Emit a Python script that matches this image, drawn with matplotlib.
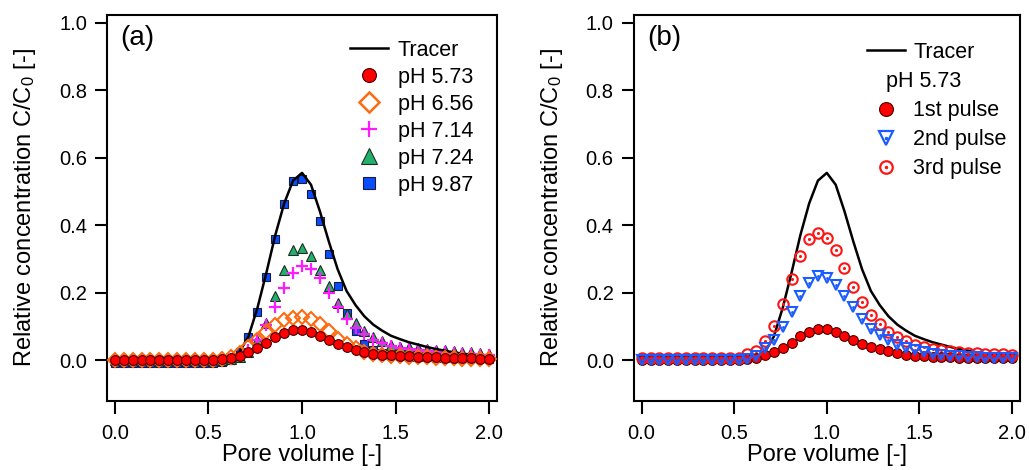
import matplotlib
matplotlib.use("Agg")
import matplotlib.pyplot as plt
from matplotlib.lines import Line2D
from matplotlib.legend_handler import HandlerTuple

plt.rcParams['font.family'] = ['Liberation Sans', 'DejaVu Sans']
plt.rcParams['mathtext.fontset'] = 'custom'
plt.rcParams['mathtext.rm'] = 'Liberation Sans'
plt.rcParams['mathtext.it'] = 'Liberation Sans:italic'

# pore volume grid (43 samples, 0 -> 2)
pore_volume = [0.000, 0.048, 0.095, 0.143, 0.190, 0.238, 0.286, 0.333, 0.381, 0.429,
               0.476, 0.524, 0.571, 0.619, 0.667, 0.714, 0.762, 0.810, 0.857, 0.905,
               0.952, 1.000, 1.048, 1.095, 1.143, 1.190, 1.238, 1.286, 1.333, 1.381,
               1.429, 1.476, 1.524, 1.571, 1.619, 1.667, 1.714, 1.762, 1.810, 1.857,
               1.905, 1.952, 2.000]

tracer = [0.0, 0.0, 0.0, 0.0, 0.0, 0.0, 0.0, 0.0, 0.0, 0.0,
          0.0, 0.0, 0.0, 0.005, 0.025, 0.07, 0.155, 0.26, 0.37, 0.465,
          0.532, 0.555, 0.52, 0.442, 0.352, 0.27, 0.205, 0.163, 0.13, 0.105,
          0.087, 0.072, 0.062, 0.053, 0.046, 0.039, 0.033, 0.028, 0.023, 0.019,
          0.015, 0.011, 0.008]

# panel (a)
ph_573 = [0.0, 0.0, 0.0, 0.0, 0.0, 0.0, 0.0, 0.0, 0.0, 0.0,
          0.0, 0.0, 0.002, 0.006, 0.013, 0.023, 0.035, 0.051, 0.067, 0.081,
          0.089, 0.089, 0.083, 0.072, 0.059, 0.047, 0.039, 0.031, 0.025, 0.019,
          0.016, 0.014, 0.012, 0.011, 0.010, 0.009, 0.008, 0.007, 0.006, 0.005,
          0.005, 0.004, 0.004]
ph_656 = [0.0, 0.0, 0.0, 0.0, 0.0, 0.0, 0.0, 0.0, 0.0, 0.0,
          0.0, 0.0, 0.003, 0.008, 0.02, 0.04, 0.06, 0.084, 0.104, 0.118,
          0.126, 0.128, 0.122, 0.108, 0.086, 0.064, 0.049, 0.035, 0.025, 0.018,
          0.015, 0.013, 0.011, 0.010, 0.009, 0.008, 0.007, 0.006, 0.005, 0.004,
          0.004, 0.003, 0.003]
ph_714 = [0.0, 0.0, 0.0, 0.0, 0.0, 0.0, 0.0, 0.0, 0.0, 0.0,
          0.0, 0.0, 0.0, 0.004, 0.012, 0.03, 0.061, 0.105, 0.156, 0.214,
          0.258, 0.279, 0.271, 0.242, 0.199, 0.158, 0.123, 0.094, 0.076, 0.059,
          0.05, 0.042, 0.036, 0.032, 0.029, 0.027, 0.025, 0.023, 0.021, 0.019,
          0.017, 0.016, 0.015]
ph_724 = [0.0, 0.0, 0.0, 0.0, 0.0, 0.0, 0.0, 0.0, 0.0, 0.0,
          0.0, 0.0, 0.0, 0.004, 0.01, 0.025, 0.06, 0.11, 0.189, 0.268,
          0.325, 0.333, 0.309, 0.266, 0.219, 0.17, 0.138, 0.11, 0.087, 0.069,
          0.057, 0.046, 0.040, 0.038, 0.035, 0.033, 0.031, 0.029, 0.027, 0.025,
          0.023, 0.021, 0.019]
ph_987 = [-0.008, -0.008, -0.008, -0.008, -0.008, -0.008, -0.008, -0.008, -0.008, -0.008,
          -0.008, -0.008, -0.006, 0.0, 0.025, 0.069, 0.143, 0.246, 0.36, 0.464,
          0.53, 0.537, 0.493, 0.412, 0.314, 0.219, 0.14, 0.085, 0.048, 0.03,
          0.02, 0.015, 0.012, 0.010, 0.009, 0.008, 0.007, 0.006, 0.006, 0.005,
          0.005, 0.005, 0.004]

# panel (b), pH 5.73 repeated pulses
pulse_1 = [0.0, 0.0, 0.0, 0.0, 0.0, 0.0, 0.0, 0.0, 0.0, 0.0,
           0.0, 0.0, 0.002, 0.006, 0.014, 0.024, 0.036, 0.052, 0.071, 0.082,
           0.091, 0.091, 0.084, 0.072, 0.059, 0.049, 0.04, 0.032, 0.026, 0.022,
           0.016, 0.013, 0.011, 0.009, 0.008, 0.008, 0.007, 0.007, 0.006, 0.006,
           0.006, 0.006, 0.006]
pulse_2 = [0.0, 0.0, 0.0, 0.0, 0.0, 0.0, 0.0, 0.0, 0.0, 0.0,
           0.0, 0.001, 0.004, 0.013, 0.035, 0.059, 0.099, 0.143, 0.191, 0.229,
           0.249, 0.244, 0.222, 0.191, 0.156, 0.123, 0.093, 0.074, 0.059, 0.046,
           0.036, 0.029, 0.024, 0.019, 0.016, 0.013, 0.011, 0.009, 0.008, 0.007,
           0.006, 0.006, 0.006]
pulse_3 = [0.005, 0.005, 0.005, 0.005, 0.005, 0.005, 0.005, 0.005, 0.005, 0.005,
           0.006, 0.007, 0.017, 0.026, 0.056, 0.101, 0.165, 0.239, 0.308, 0.359,
           0.378, 0.363, 0.325, 0.272, 0.218, 0.172, 0.135, 0.106, 0.084, 0.069,
           0.056, 0.046, 0.039, 0.034, 0.029, 0.026, 0.024, 0.022, 0.021, 0.019,
           0.018, 0.017, 0.016]

TXT = 15.5

fig = plt.figure(figsize=(10.29, 4.70), dpi=100)
ax1 = fig.add_axes([0.104, 0.147, 0.379, 0.821])
ax2 = fig.add_axes([0.616, 0.147, 0.375, 0.821])

for ax in (ax1, ax2):
    ax.set_xlim(-0.042, 2.042)
    ax.set_ylim(-0.121, 1.023)
    ax.set_xticks([0.0, 0.5, 1.0, 1.5, 2.0])
    ax.set_yticks([0.0, 0.2, 0.4, 0.6, 0.8, 1.0])
    ax.xaxis.set_major_formatter(plt.FormatStrFormatter('%.1f'))
    ax.yaxis.set_major_formatter(plt.FormatStrFormatter('%.1f'))
    for s in ax.spines.values():
        s.set_linewidth(1.5)
    ax.tick_params(axis='both', direction='out', length=9, width=1.5, labelsize=14.5)
    ax.tick_params(axis='x', pad=7.5)
    ax.tick_params(axis='y', pad=5.5)
    ax.set_xlabel('Pore volume [-]', fontsize=17, labelpad=0.5)
    ax.set_ylabel('Relative concentration C/C$_0$ [-]', fontsize=17, labelpad=15)

# ---- (a)
ax1.plot(pore_volume, ph_987, 's', ms=6.3, mfc='#0a4dff', mec='#1a1a3a', mew=0.8, zorder=2)
ax1.plot(pore_volume, ph_724, '^', ms=7.5, mfc='#22b06a', mec='#1d2d25', mew=0.8, zorder=3)
ax1.plot(pore_volume, ph_714, '+', ms=8, mec='#ff1aff', mew=1.6, zorder=4)
ax1.plot(pore_volume, tracer, '-', color='black', lw=1.8, zorder=5)
ax1.plot(pore_volume, ph_656, 'D', ms=7.5, mfc='none', mec='#ff6a10', mew=1.5, zorder=6)
ax1.plot(pore_volume, ph_573, 'o', ms=7, mfc='#ff0000', mec='#4a0000', mew=0.8, zorder=7)

handles_a = [
    Line2D([], [], color='black', lw=1.8),
    Line2D([], [], ls='none', marker='o', ms=10, mfc='#ff0000', mec='#4a0000', mew=0.8),
    Line2D([], [], ls='none', marker='D', ms=10, mfc='none', mec='#ff6a10', mew=1.8),
    Line2D([], [], ls='none', marker='+', ms=11, mec='#ff1aff', mew=1.6),
    Line2D([], [], ls='none', marker='^', ms=11, mfc='#22b06a', mec='#1d2d25', mew=0.8),
    Line2D([], [], ls='none', marker='s', ms=9, mfc='#0a4dff', mec='#1a1a3a', mew=0.8),
]
labels_a = ['Tracer', 'pH 5.73', 'pH 6.56', 'pH 7.14', 'pH 7.24', 'pH 9.87']
ax1.legend(handles_a, labels_a, loc='upper right', frameon=False, fontsize=TXT,
           handlelength=1.75, handletextpad=0.45, labelspacing=0.28,
           borderaxespad=0.3, bbox_to_anchor=(0.978, 0.975))
ax1.text(0.035, 0.94, '(a)', transform=ax1.transAxes, fontsize=20, va='center', ha='left')

# ---- (b)
ax2.plot(pore_volume, tracer, '-', color='black', lw=1.8, zorder=2)
ax2.plot(pore_volume, pulse_1, 'o', ms=7, mfc='#ff0000', mec='#4a0000', mew=0.8, zorder=3)
ax2.plot(pore_volume, pulse_3, 'o', ms=7.5, mfc='none', mec='#ff1414', mew=1.5, zorder=4)
ax2.plot(pore_volume, pulse_3, '.', ms=2.5, color='#ff1414', zorder=4)
ax2.plot(pore_volume, pulse_2, 'v', ms=7.5, mfc='none', mec='#1a5cff', mew=1.5, zorder=5)
ax2.plot(pore_volume, pulse_2, '.', ms=2, color='#1a5cff', zorder=5)

ring3 = Line2D([], [], ls='none', marker='o', ms=9, mfc='none', mec='#ff1414', mew=1.6)
dot3 = Line2D([], [], ls='none', marker='.', ms=3, color='#ff1414')
tri2 = Line2D([], [], ls='none', marker='v', ms=10, mfc='none', mec='#1a5cff', mew=1.6)
dot2 = Line2D([], [], ls='none', marker='.', ms=3, color='#1a5cff')
handles_b = [
    Line2D([], [], color='black', lw=1.8),
    Line2D([], [], ls='none'),
    Line2D([], [], ls='none', marker='o', ms=10, mfc='#ff0000', mec='#4a0000', mew=0.8),
    (tri2, dot2),
    (ring3, dot3),
]
labels_b = ['Tracer', ' ', '1st pulse', '2nd pulse', '3rd pulse']
ax2.legend(handles_b, labels_b, loc='upper right', frameon=False, fontsize=TXT,
           handlelength=1.75, handletextpad=0.4, labelspacing=0.38,
           borderaxespad=0.3, bbox_to_anchor=(1.005, 0.97),
           handler_map={tuple: HandlerTuple(ndivide=1)})
ax2.text(0.653, 0.828, 'pH 5.73', transform=ax2.transAxes, fontsize=TXT, va='center', ha='left')
ax2.text(0.035, 0.94, '(b)', transform=ax2.transAxes, fontsize=20, va='center', ha='left')

fig.savefig('out.png', dpi=100)
